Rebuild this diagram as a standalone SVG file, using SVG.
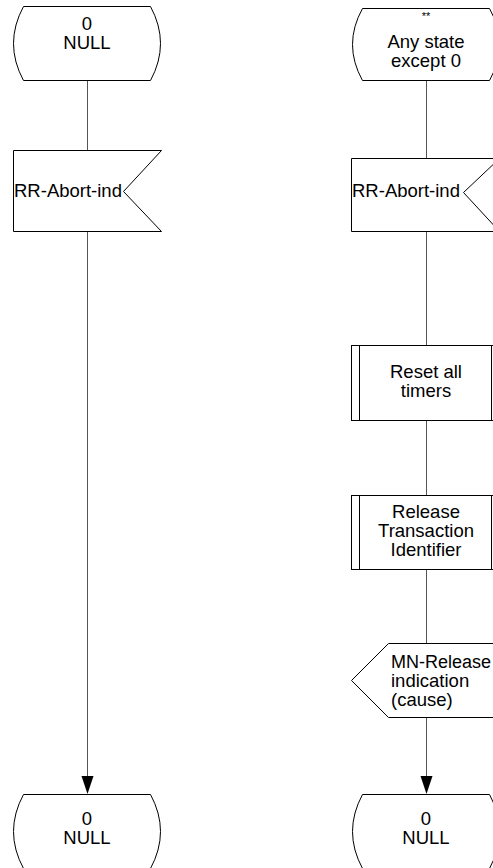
<svg xmlns="http://www.w3.org/2000/svg" width="493" height="868" viewBox="0 0 493 868">
<defs>
<style>
.s{fill:#fff;stroke:#000;stroke-width:1}
.c{fill:none;stroke:#555;stroke-width:1}
.t{font-family:"Liberation Sans",Arial,sans-serif;font-size:18.5px;fill:#000}
.m{text-anchor:middle}
</style>
</defs>
<rect width="493" height="868" fill="#fff"/>
<g id="connectors">
<line class="c" x1="87.5" y1="81" x2="87.5" y2="150"/>
<line class="c" x1="87.5" y1="232" x2="87.5" y2="776"/>
<path d="M81.5,776 L93.5,776 L87.5,794 Z" fill="#000"/>
<line class="c" x1="426.5" y1="81" x2="426.5" y2="158"/>
<line class="c" x1="426.5" y1="231" x2="426.5" y2="345"/>
<line class="c" x1="426.5" y1="420" x2="426.5" y2="495"/>
<line class="c" x1="426.5" y1="569" x2="426.5" y2="643"/>
<line class="c" x1="426.5" y1="717" x2="426.5" y2="776"/>
<path d="M420.5,776 L432.5,776 L426.5,794 Z" fill="#000"/>
</g>
<g id="state_null_top">
<path class="s" d="M23.5,6.5 L150.5,6.5 Q170.5,43.5 150.5,80.5 L23.5,80.5 Q3.5,43.5 23.5,6.5 Z"/>
<text class="t m" x="87" y="30">0</text>
<text class="t m" x="87" y="49">NULL</text>
</g>
<g id="input_left">
<path class="s" d="M13.5,150.5 L161.5,150.5 L123.5,191.5 L161.5,231.5 L13.5,231.5 Z"/>
<text class="t" x="14" y="197">RR-Abort-ind</text>
</g>
<g id="state_null_left_bottom">
<path class="s" d="M23.5,794.5 L150.5,794.5 Q170.5,831.5 150.5,868.5 L23.5,868.5 Q3.5,831.5 23.5,794.5 Z"/>
<text class="t m" x="87" y="825">0</text>
<text class="t m" x="87" y="844">NULL</text>
</g>
<g id="state_any">
<path class="s" d="M362.5,8.5 L489.5,8.5 Q509.5,44.5 489.5,80.5 L362.5,80.5 Q342.5,44.5 362.5,8.5 Z"/>
<text class="t m" x="426" y="20" style="font-size:11px">**</text>
<text class="t m" x="426" y="48">Any state</text>
<text class="t m" x="426" y="67">except 0</text>
</g>
<g id="input_right">
<path class="s" d="M351.5,158.5 L499.5,158.5 L463.5,192.5 L499.5,231.5 L351.5,231.5 Z"/>
<text class="t" x="352" y="197">RR-Abort-ind</text>
</g>
<g id="proc_reset">
<rect class="s" x="351.5" y="345.5" width="148" height="75"/>
<line class="s" x1="359.5" y1="345.5" x2="359.5" y2="420.5"/>
<line class="s" x1="491.5" y1="345.5" x2="491.5" y2="420.5"/>
<text class="t m" x="426" y="378">Reset all</text>
<text class="t m" x="426" y="397">timers</text>
</g>
<g id="proc_release">
<rect class="s" x="351.5" y="495.5" width="148" height="74"/>
<line class="s" x1="359.5" y1="495.5" x2="359.5" y2="569.5"/>
<line class="s" x1="491.5" y1="495.5" x2="491.5" y2="569.5"/>
<text class="t m" x="426" y="518">Release</text>
<text class="t m" x="426" y="537">Transaction</text>
<text class="t m" x="426" y="556">Identifier</text>
</g>
<g id="output_mn">
<path class="s" d="M388.5,643.5 L499.5,643.5 L499.5,717.5 L388.5,717.5 L351.5,680.5 Z"/>
<text class="t" x="391" y="668" style="font-size:18px">MN-Release</text>
<text class="t" x="391" y="687">indication</text>
<text class="t" x="391" y="706">(cause)</text>
</g>
<g id="state_null_right_bottom">
<path class="s" d="M362.5,794.5 L489.5,794.5 Q509.5,831.5 489.5,868.5 L362.5,868.5 Q342.5,831.5 362.5,794.5 Z"/>
<text class="t m" x="426" y="825">0</text>
<text class="t m" x="426" y="844">NULL</text>
</g>
</svg>
